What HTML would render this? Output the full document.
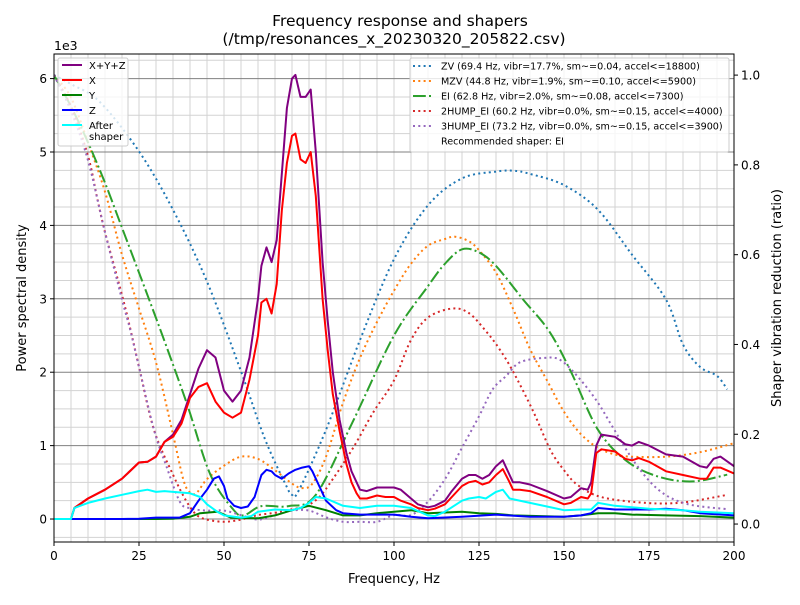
<!DOCTYPE html>
<html><head><meta charset="utf-8"><style>
body{margin:0;background:#fff;}
svg{font-family:"DejaVu Sans","Liberation Sans",sans-serif;}
</style></head><body>
<svg id="chart" width="800" height="600" xmlns="http://www.w3.org/2000/svg">
<rect width="800" height="600" fill="#fff"/>
<g id="grid"></g>
<g id="series"></g>
<rect x="54" y="54" width="680" height="488" fill="none" stroke="#000" stroke-width="1"/>
<g id="axes"></g>
<text x="400" y="26" text-anchor="middle" font-size="15.5">Frequency response and shapers</text>
<text x="394" y="44" text-anchor="middle" font-size="15.5">(/tmp/resonances_x_20230320_205822.csv)</text>
<text x="54" y="50" font-size="12.5">1e3</text>
<text x="394" y="583" text-anchor="middle" font-size="13">Frequency, Hz</text>
<text transform="translate(26,298) rotate(-90)" text-anchor="middle" font-size="13">Power spectral density</text>
<text transform="translate(781,298) rotate(-90)" text-anchor="middle" font-size="13">Shaper vibration reduction (ratio)</text>
<g id="legend-psd"></g>
<g id="legend-shapers"></g>
</svg>
<script>
const xTicks=[0,25,50,75,100,125,150,175,200];
const yTicks=[0,1,2,3,4,5,6];
const y2Ticks=[0.0,0.2,0.4,0.6,0.8,1.0];
const y2Labels=["0.0","0.2","0.4","0.6","0.8","1.0"];

const sumF=[0,5,6,10,15,20,25,27.5,30,32.5,35,37.5,40,42.5,45,47.5,50,52.5,55,57.5,60,61,62.5,64,65.5,67,68.5,70,71,72.5,74,75.5,77,79,80.5,82,84,86,87.5,89,90,92,95,97.5,100,102,105,107,110,112,115,117,120,122,124,126,128,130,132,134,135,137,140,145,150,152,155,157,158,159.5,161,165,168,170,172,175,180,185,190,192,194,196,200];
const sumV=[0,0,0.15,0.28,0.4,0.55,0.77,0.78,0.85,1.05,1.15,1.35,1.7,2.05,2.3,2.2,1.75,1.6,1.75,2.2,3.0,3.45,3.7,3.5,3.8,4.7,5.6,6.0,6.05,5.75,5.75,5.85,5.0,3.5,2.7,2.0,1.35,0.9,0.65,0.5,0.4,0.38,0.43,0.43,0.43,0.4,0.28,0.2,0.16,0.18,0.25,0.38,0.55,0.6,0.6,0.55,0.6,0.72,0.8,0.6,0.5,0.5,0.47,0.38,0.28,0.3,0.42,0.4,0.5,1.0,1.15,1.12,1.02,1.0,1.05,1.0,0.88,0.85,0.72,0.7,0.82,0.85,0.72];
const xV=[0,0,0.15,0.28,0.4,0.55,0.77,0.78,0.85,1.05,1.12,1.3,1.65,1.8,1.85,1.6,1.45,1.38,1.45,1.9,2.5,2.95,3.0,2.8,3.2,4.2,4.85,5.22,5.25,4.9,4.85,5.0,4.4,3.0,2.3,1.7,1.2,0.75,0.5,0.35,0.28,0.28,0.32,0.3,0.3,0.25,0.2,0.15,0.12,0.14,0.2,0.3,0.45,0.5,0.52,0.47,0.5,0.6,0.68,0.5,0.4,0.4,0.38,0.3,0.2,0.22,0.3,0.28,0.35,0.9,0.95,0.92,0.82,0.8,0.83,0.78,0.65,0.6,0.55,0.55,0.7,0.7,0.62];
const zF=[0,5,10,20,25,30,35,37,40,42.5,45,47,48.5,50,51,53,55,57,59,61,62.5,64,65,67,69,71,73,75,76,78,80,83,85,90,95,100,105,110,120,130,140,150,155,158,160,165,175,180,185,190,200];
const zV=[0,0,0,0,0.005,0.02,0.02,0.02,0.08,0.25,0.4,0.55,0.58,0.45,0.28,0.18,0.15,0.17,0.3,0.6,0.67,0.65,0.6,0.55,0.62,0.67,0.7,0.72,0.65,0.45,0.25,0.12,0.08,0.06,0.06,0.06,0.03,0.01,0.03,0.06,0.03,0.03,0.05,0.08,0.15,0.13,0.13,0.14,0.12,0.08,0.05];
const yF=[0,5,20,30,35,40,43,48,50,52,60,65,70,75,80,85,90,95,100,105,110,120,125,130,135,150,155,160,165,170,180,190,200];
const yV=[0,0,0,0,0.005,0.03,0.08,0.1,0.06,0.02,0.01,0.05,0.12,0.18,0.12,0.05,0.05,0.08,0.1,0.12,0.08,0.1,0.08,0.07,0.05,0.03,0.05,0.08,0.08,0.06,0.05,0.04,0.02];
const afF=[0,5,6,10,15,20,25,27.5,30,32.5,35,40,43,45,48,50,55,58,60,65,70,72.5,75,77,80,85,90,95,100,105,110,112,115,120,122,125,127,130,132,134,140,145,150,155,158,160,165,175,185,190,200];
const afV=[0,0,0.15,0.22,0.28,0.33,0.38,0.4,0.37,0.38,0.37,0.35,0.3,0.2,0.1,0.05,0.02,0.04,0.1,0.13,0.12,0.15,0.22,0.3,0.28,0.18,0.15,0.18,0.18,0.15,0.05,0.04,0.1,0.25,0.28,0.3,0.28,0.37,0.4,0.28,0.22,0.17,0.12,0.13,0.13,0.22,0.18,0.14,0.12,0.1,0.08];

const zvF=[0,5,13.5,25,35,45,55,62,68,70,72,80,90,100,110,120,130,135,140,150,160,170,180,185,190,195,198];
const zvV=[1.0,0.98,0.94,0.83,0.70,0.54,0.34,0.19,0.09,0.065,0.075,0.21,0.41,0.59,0.71,0.77,0.785,0.787,0.78,0.755,0.70,0.60,0.50,0.40,0.35,0.33,0.30];
const mzvF=[0,5,10,15,20,25,30,35,38,40,42,45,50,55,60,65,70,73,76,80,85,90,95,100,105,110,115,118,122,125,130,135,140,145,150,155,160,165,170,180,190,200];
const mzvV=[1.0,0.95,0.85,0.74,0.6,0.48,0.36,0.2,0.1,0.07,0.07,0.1,0.13,0.15,0.145,0.12,0.09,0.08,0.09,0.15,0.27,0.37,0.45,0.52,0.58,0.62,0.635,0.64,0.63,0.61,0.56,0.48,0.39,0.32,0.25,0.2,0.17,0.155,0.15,0.15,0.16,0.18];
const eiF=[0,5,10,15,20,25,31.4,39,46,53,56,61,69,77,88,100,110,115,120,125,130,138,145.6,152,160,168.5,178,188,198];
const eiV=[1.0,0.93,0.85,0.76,0.66,0.56,0.43,0.27,0.11,0.03,0.02,0.04,0.04,0.065,0.23,0.42,0.53,0.58,0.612,0.605,0.575,0.5,0.43,0.34,0.21,0.14,0.105,0.095,0.11];
const h2F=[0,5,10,12.6,15,20,22.6,25,29.4,35,39,42,45,50,55,60,65,68,74,78,82,88,94,100,105,110,117,122,127,131,135,141,146,150,154,161,174,185,198];
const h2V=[1.0,0.93,0.82,0.73,0.65,0.51,0.43,0.35,0.21,0.11,0.05,0.02,0.01,0.005,0.01,0.02,0.025,0.03,0.04,0.06,0.1,0.17,0.25,0.32,0.41,0.46,0.48,0.47,0.43,0.39,0.34,0.25,0.165,0.12,0.087,0.06,0.047,0.048,0.065];
const h3F=[0,5,10,15,20,22.5,25,29.4,33,37,40,45,50,55,60,65,70,75,80,85,90,95,100,105,110,115,120,125,129,133,137,144,149,155,160,164,171,178,186,198];
const h3V=[1.0,0.92,0.81,0.65,0.5,0.43,0.35,0.21,0.13,0.05,0.035,0.03,0.03,0.02,0.01,0.02,0.03,0.03,0.015,0.005,0.005,0.005,0.02,0.02,0.05,0.1,0.17,0.24,0.30,0.33,0.36,0.37,0.365,0.32,0.27,0.22,0.135,0.075,0.045,0.033];

const L=54,R=734,T=54,B=542;
const xMin=0,xMax=200,yMin=-0.313,yMax=6.335,y2Min=-0.04,y2Max=1.047;
function xs(f){return L+(f-xMin)/(xMax-xMin)*(R-L);}
function ys(v){return B-(v-yMin)/(yMax-yMin)*(B-T);}
function y2s(r){return B-(r-y2Min)/(y2Max-y2Min)*(B-T);}
const NS="http://www.w3.org/2000/svg";
function mk(tag,attrs,parent){const e=document.createElementNS(NS,tag);for(const k in attrs)e.setAttribute(k,attrs[k]);parent.appendChild(e);return e;}

const grid=document.getElementById('grid');
for(let f=0;f<=200;f+=5){
  const l=mk('line',{x1:xs(f),x2:xs(f),y1:T,y2:B,stroke:'#d3d3d3','stroke-width':1},grid);
  
  
}
for(let v=-0.25;v<=6.3;v+=0.25){
  const major=Math.abs(v-Math.round(v))<1e-6;
  const l=mk('line',{x1:L,x2:R,y1:ys(v),y2:ys(v),stroke:major?'#808080':'#d3d3d3','stroke-width':1},grid);
  
  
}

const axes=document.getElementById('axes');
xTicks.forEach(t=>{
  const l=mk('line',{x1:xs(t),x2:xs(t),y1:B,y2:B+4,stroke:'#000'},axes);
  
  
  const tx=mk('text',{x:xs(t),y:B+18,'text-anchor':'middle','font-size':12},axes);
  tx.textContent=t;
  
  
});
yTicks.forEach(t=>{
  const l=mk('line',{x1:L-4,x2:L,y1:ys(t),y2:ys(t),stroke:'#000'},axes);
  
  
  const tx=mk('text',{x:L-7,y:ys(t)+4.5,'text-anchor':'end','font-size':12},axes);
  tx.textContent=t;
  
  
});
y2Ticks.forEach((t,i)=>{
  const l=mk('line',{x1:R,x2:R+4,y1:y2s(t),y2:y2s(t),stroke:'#000'},axes);
  
  
  const tx=mk('text',{x:R+7,y:y2s(t)+4.5,'font-size':12},axes);
  tx.textContent=y2Labels[i];
  
  
});

const series=document.getElementById('series');
const clip=mk('clipPath',{id:'pc'},series);mk('rect',{x:L,y:T,width:R-L,height:B-T},clip);
function smoothPath(P){
  let d='M'+P[0][0].toFixed(1)+','+P[0][1].toFixed(1);
  for(let i=0;i<P.length-1;i++){
    const p0=P[i-1]||P[i],p1=P[i],p2=P[i+1],p3=P[i+2]||P[i+1];
    const c1=[p1[0]+(p2[0]-p0[0])/6,p1[1]+(p2[1]-p0[1])/6];
    const c2=[p2[0]-(p3[0]-p1[0])/6,p2[1]-(p3[1]-p1[1])/6];
    d+='C'+c1[0].toFixed(1)+','+c1[1].toFixed(1)+' '+c2[0].toFixed(1)+','+c2[1].toFixed(1)+' '+p2[0].toFixed(1)+','+p2[1].toFixed(1);
  }
  return d;
}
function line(F,V,scale,color,w,dash,name,smooth){
  let p;
  if(smooth){
    const P=F.map((f,i)=>[xs(f),scale(V[i])]);
    p=mk('path',{d:smoothPath(P),fill:'none',stroke:color,'stroke-width':w,'clip-path':'url(#pc)'},series);
  } else {
    const pts=F.map((f,i)=>xs(f).toFixed(1)+','+scale(V[i]).toFixed(1)).join(' ');
    p=mk('polyline',{points:pts,fill:'none',stroke:color,'stroke-width':w,'stroke-linejoin':'round','clip-path':'url(#pc)'},series);
  }
  if(dash)p.setAttribute('stroke-dasharray',dash);
  
  
}
const DOT='2,3.3', DD='12.8,3.2,2,3.2';
line(zvF,zvV,y2s,'#1f77b4',2,DOT,'zv-shaper-line',true);
line(mzvF,mzvV,y2s,'#ff7f0e',2,DOT,'mzv-shaper-line',true);
line(eiF,eiV,y2s,'#2ca02c',2,DD,'ei-shaper-line',true);
line(h2F,h2V,y2s,'#d62728',2,DOT,'2hump-ei-shaper-line',true);
line(h3F,h3V,y2s,'#9467bd',2,DOT,'3hump-ei-shaper-line',true);
line(sumF,sumV,ys,'#800080',2,null,'xyz-psd-line',false);
line(sumF,xV,ys,'#ff0000',2,null,'x-psd-line',false);
line(yF,yV,ys,'#008000',2,null,'y-psd-line',false);
line(zF,zV,ys,'#0000ff',2,null,'z-psd-line',false);
line(afF,afV,ys,'#00ffff',2,null,'after-shaper-psd-line',false);

const lg=document.getElementById('legend-psd');
mk('rect',{x:58,y:58,width:70,height:88,rx:2,fill:'#fff','fill-opacity':0.8,stroke:'#ccc'},lg);
const psdLeg=[['X+Y+Z','#800080',65],['X','#ff0000',80],['Y','#008000',95],['Z','#0000ff',110],['After','#00ffff',125]];
psdLeg.forEach(e=>{
  const l=mk('line',{x1:62,x2:82,y1:e[2],y2:e[2],stroke:e[1],'stroke-width':2},lg);
  
  
  const t=mk('text',{x:89,y:e[2]+4,'font-size':10},lg);
  t.textContent=e[0];
  
  
});
const t2=mk('text',{x:89,y:140,'font-size':10},lg);t2.textContent='shaper';



const lg2=document.getElementById('legend-shapers');
mk('rect',{x:410,y:58,width:319,height:94,rx:2,fill:'#fff','fill-opacity':0.8,stroke:'#ccc'},lg2);
const shLeg=[['ZV (69.4 Hz, vibr=17.7%, sm~=0.04, accel<=18800)','#1f77b4',DOT],['MZV (44.8 Hz, vibr=1.9%, sm~=0.10, accel<=5900)','#ff7f0e',DOT],['EI (62.8 Hz, vibr=2.0%, sm~=0.08, accel<=7300)','#2ca02c',DD],['2HUMP_EI (60.2 Hz, vibr=0.0%, sm~=0.15, accel<=4000)','#d62728',DOT],['3HUMP_EI (73.2 Hz, vibr=0.0%, sm~=0.15, accel<=3900)','#9467bd',DOT],['Recommended shaper: EI',null,null]];
shLeg.forEach((e,i)=>{
  const y=66+i*15;
  if(e[1]){
    const l=mk('line',{x1:413,x2:433,y1:y,y2:y,stroke:e[1],'stroke-width':2,'stroke-dasharray':e[2]},lg2);
    
    
  }
  const t=mk('text',{x:441,y:y+3.5,'font-size':9.6},lg2);
  t.textContent=e[0];
  
  
});
</script>
</body></html>
